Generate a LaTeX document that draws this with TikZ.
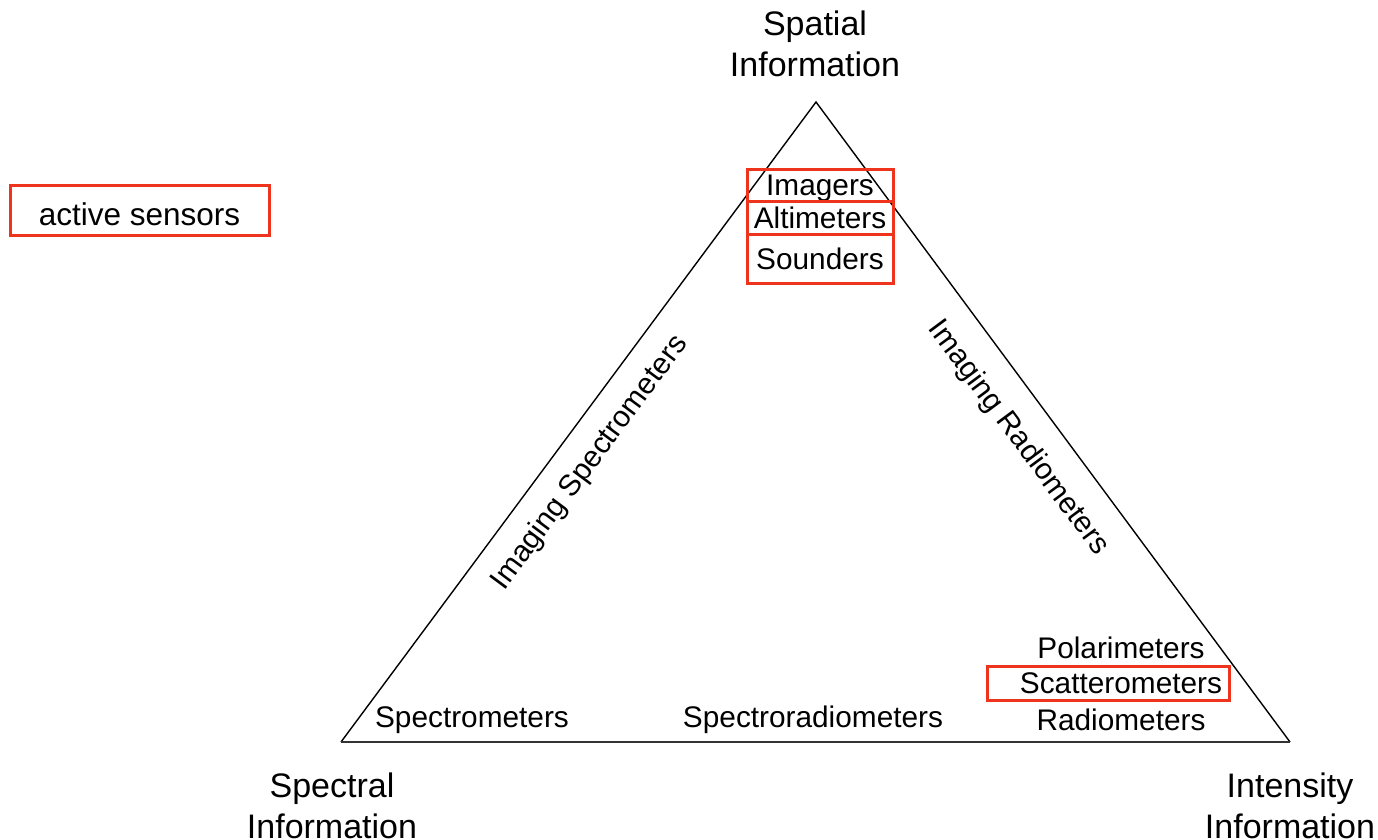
\documentclass[tikz,border=0pt]{standalone}
\usepackage{fontspec}
\setmainfont{Liberation Sans}
\usetikzlibrary{positioning}
\definecolor{boxred}{RGB}{238,52,28}
\tikzstyle{corner} = [
    text centered, align=center,
    font=\fontsize{34}{40.5}\selectfont
]
\tikzstyle{sensor} = [
    text centered, inner sep=0pt,
    font=\fontsize{29.8}{34}\selectfont
]
\tikzstyle{redbox} = [
    rectangle, draw=boxred, line width=3pt,
    text centered, inner sep=0pt, text depth=0pt,
    font=\fontsize{29.8}{34}\selectfont
]
\tikzstyle{side} = [line width=1.4pt, black]

\begin{document}
\begin{tikzpicture}[x=1pt, y=-1pt]
        \useasboundingbox (0,0) rectangle (1378,840);
        % Corners of the triangle
        \coordinate (top) at (816,102);
        \coordinate (left) at (341,742);
        \coordinate (right) at (1290,742);

        % Draw triangle
        \draw [side] (left) -- (top) -- (right);
        \draw [line width=2.6pt, black!80] (left) -- (right);

        % Corner labels
        \node (spatial) [corner] at (815,44) {Spatial\\Information};
        \node (spectral) [corner] at (332,806) {Spectral\\Information};
        \node (intensity) [corner] at (1290,806) {Intensity\\Information};

        % Side labels
        \node (imgspec) [sensor, rotate=53.4] at (590,463) {Imaging Spectrometers};
        \node (imgrad) [sensor, rotate=-53.4] at (1018,438) {Imaging Radiometers};

        % Bottom labels
        \node (spectrometers) [sensor] at (472,720) {Spectrometers};
        \node (spectrorad) [sensor] at (813,720) {Spectroradiometers};
        \node (radiometers) [sensor] at (1121,720) {Radiometers};
        \node (polarimeters) [sensor] at (1121,648) {Polarimeters};
        \node (scatter) [redbox, minimum height=34pt, text width=228pt, inner xsep=7pt, align=right] at (1108,683) {Scatterometers};

        % Top boxes
        \node (imagers) [redbox, minimum width=146pt, minimum height=32pt] at (820,185) {Imagers};
        \node (altimeters) [redbox, minimum width=146pt, minimum height=33pt] at (820,217.5) {Altimeters};
        \node (sounders) [redbox, minimum width=146pt, minimum height=49pt] at (820,258.5) {Sounders};

        % Legend
        \node (active) [redbox, minimum width=259pt, minimum height=50pt, text height=30pt, font=\fontsize{31.5}{36}\selectfont] at (139.5,210) {active sensors};
    \end{tikzpicture}
\end{document}
